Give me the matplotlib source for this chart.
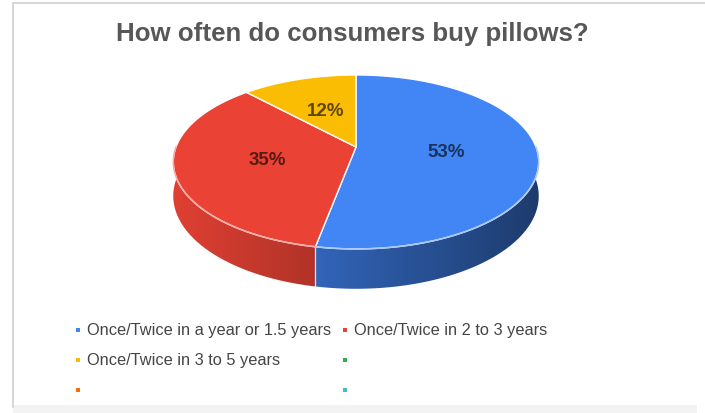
import numpy as np
import matplotlib.pyplot as plt
from matplotlib.colors import to_rgb
from matplotlib.patches import Polygon, Rectangle

plt.rcParams['font.family'] = ['Liberation Sans', 'DejaVu Sans']

title = 'How often do consumers buy pillows?'
shares = [53, 35, 12]
legend_labels = ['Once/Twice in a year or 1.5 years', 'Once/Twice in 2 to 3 years',
                 'Once/Twice in 3 to 5 years', '', '', '']
colors = ['#4285F4', '#EA4335', '#FBBC04', '#34A853', '#FF6D01', '#46BDC6']

# pie placement (pixels), with a little perspective on the disc
cx, cy = 356, 148
rx, ry = 180, 84.4
persp = 0.172
depth = 33


def project(t, r=1.0, drop=0.0):
    u = r * np.sin(t)
    v = -r * np.cos(t)
    s = 1.0 / (1.0 - persp * v)
    return cx + rx * u * s, cy + (ry * v + drop) * s


def shade(rgb, f):
    return np.clip(np.array(rgb) * f, 0, 1)


def lighten(rgb, f):
    rgb = np.array(rgb)
    return tuple(rgb + (1 - rgb) * f)


fig = plt.figure(figsize=(7.05, 4.14), dpi=100)
ax = fig.add_axes([0, 0, 1, 1])
ax.set_xlim(0, 705)
ax.set_ylim(414, 0)
ax.axis('off')

# frame around the chart
ax.plot([13, 13, 705], [408, 4, 4], color='#cfcfcf', lw=1.2)
ax.add_patch(Rectangle((13, 406), 684, 8, color='#f3f3f3', lw=0))

ax.text(352, 34, title, ha='center', va='center', fontsize=18.6,
        fontweight='bold', color='#575757')

total = float(sum(shares))
bounds = np.concatenate([[0], np.cumsum(shares)]) / total * 2 * np.pi
front = (np.pi / 2, 3 * np.pi / 2)

# side walls, shaded darker towards the right
for i in range(len(shares)):
    a = max(bounds[i], front[0])
    b = min(bounds[i + 1], front[1])
    if a >= b:
        continue
    rgb = to_rgb(colors[i])
    ts = np.linspace(a, b, 150)
    xt, yt = project(ts)
    xb, yb = project(ts[::-1], drop=depth)
    pts = list(zip(xt, yt)) + list(zip(xb, yb))
    wall = Polygon(pts, closed=True, facecolor='none', edgecolor='none')
    ax.add_patch(wall)
    x0, x1 = min(xt.min(), xb.min()) - 2, max(xt.max(), xb.max()) + 2
    y0, y1 = min(yt.min(), yb.min()) - 2, max(yt.max(), yb.max()) + 2
    xs = np.linspace(x0, x1, 300)
    u = np.clip((xs - cx) / rx, -1, 1)
    grad = np.array([shade(rgb, 0.7 - 0.25 * k) for k in u])[None, :, :]
    im = ax.imshow(grad, extent=[x0, x1, y1, y0], aspect='auto',
                   interpolation='bilinear', zorder=1)
    im.set_clip_path(wall)

ax.set_xlim(0, 705)
ax.set_ylim(414, 0)

# seams between walls
for t in bounds[1:-1]:
    if front[0] < t < front[1]:
        x0, y0 = project(t)
        x1, y1 = project(t, drop=depth)
        ax.plot([x0, x1], [y0, y1], color='#e9e9f2', lw=0.9, zorder=2)

# top face
for i in range(len(shares)):
    rgb = to_rgb(colors[i])
    ts = np.linspace(bounds[i], bounds[i + 1], 200)
    xs, ys = project(ts)
    pts = [(cx, cy)] + list(zip(xs, ys))
    ax.add_patch(Polygon(pts, closed=True, facecolor=rgb, edgecolor='white',
                         lw=1.0, joinstyle='round', zorder=3))

# light rim on the front edge
for i in range(len(shares)):
    a = max(bounds[i], front[0])
    b = min(bounds[i + 1], front[1])
    if a >= b:
        continue
    ts = np.linspace(a, b, 150)
    xs, ys = project(ts)
    ax.plot(xs, ys, color=lighten(to_rgb(colors[i]), 0.55), lw=1.1, zorder=4)

# value labels
for i, v in enumerate(shares):
    mid = (bounds[i] + bounds[i + 1]) / 2
    x, y = project(mid, r=0.5)
    ax.text(x, y, f'{v}%', ha='center', va='center', fontsize=13.5,
            fontweight='bold', color=tuple(shade(to_rgb(colors[i]), 0.38)), zorder=5)

# legend, two columns
col_x = [78, 345]
row_y = [331, 361, 391]
for k, (lab, col) in enumerate(zip(legend_labels, colors)):
    x = col_x[k % 2]
    y = row_y[k // 2]
    ax.scatter([x], [y], s=10, marker='s', color=col, lw=0)
    ax.text(x + 9, y, lab, ha='left', va='center', fontsize=11.8, color='#454545')

fig.savefig('out.png', dpi=100)
